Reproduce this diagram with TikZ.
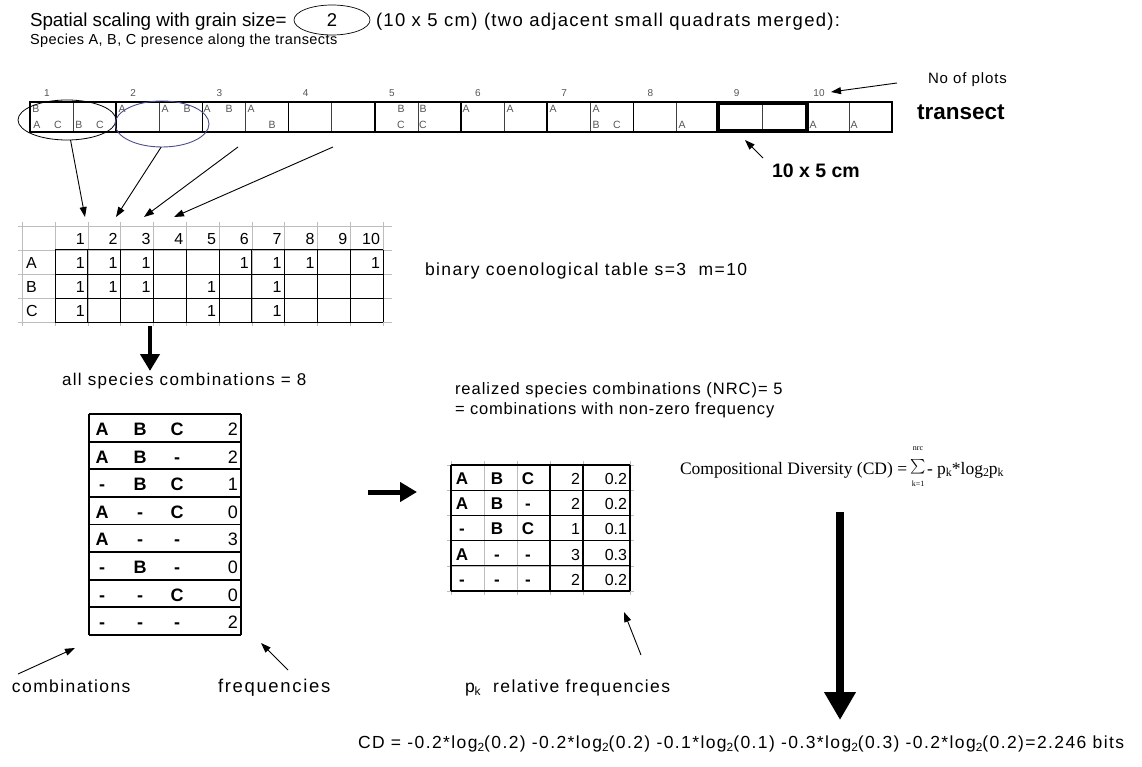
\documentclass[tikz,border=0pt]{standalone}
\usepackage{fontspec}
\setmainfont{Liberation Sans}
\newfontfamily\cdfont{Liberation Serif}
\usetikzlibrary{shapes.geometric,arrows.meta}
\newcommand\fsz[1]{\fontsize{#1}{#1}\selectfont}
\newcommand\lsp[1]{\addfontfeature{LetterSpace=#1}}
\newcommand\sbs[1]{\raisebox{-0.35ex}{\scalebox{0.68}{#1}}}
\definecolor{navyring}{HTML}{4A4E8C}
\definecolor{lettergray}{HTML}{555555}
\definecolor{gridgray}{HTML}{BDBDBD}
\begin{document}
\begin{tikzpicture}[x=1pt,y=-1pt,
  every node/.style={inner sep=0pt,outer sep=0pt},
  lbl/.style={anchor=base west},
  thinarrow/.style={line width=0.9pt,-{Triangle[length=10pt,width=7pt]}},
  cellletter/.style={font=\fsz{10.5},text=lettergray,anchor=center},
  plotnum/.style={font=\fsz{10},text=lettergray,anchor=center},
  tabnum/.style={font=\fsz{16},anchor=base east},
  boldlet/.style={font=\fsz{18}\bfseries,anchor=base},
  ctnum/.style={font=\fsz{18},anchor=base east},
]
\useasboundingbox (0,0) rectangle (1142,767);
\fill[white] (0,0) rectangle (1142,767);

% ---------- title ----------
\node[lbl,font=\fsz{18.8}] (title) at (30,27) {Spatial scaling with grain size=};
\node[draw,ellipse,line width=0.7pt,minimum width=76pt,minimum height=30pt,font=\fsz{18.5}] (grain) at (332,20) {2};
\node[lbl,font=\fsz{18.5}\lsp{7}] (title2) at (376,27) {(10 x 5 cm) (two adjacent small quadrats merged):};
\node[lbl,font=\fsz{14.5}\lsp{3}] (subtitle) at (30,45) {Species A, B, C presence along the transects};

% ---------- transect ----------
\foreach \i in {1,3,...,19} {
  \draw[line width=0.6pt,black!75] ({30+\i*43.1},102) -- ({30+\i*43.1},132);
}
\foreach \i in {2,4,...,18} {
  \draw[line width=1.5pt] ({30+\i*43.1},102) -- ({30+\i*43.1},132);
}
\draw[line width=1.6pt] (30,102) rectangle (892,132);
\draw[line width=3.6pt] (718,103) rectangle (807,131);

\foreach \k in {1,...,9} {
  \node[plotnum] (pn\k) at ({30+(\k-1)*86.2+17},93) {\k};
}
\node[plotnum] (pn10) at (819,93) {10};

% cell letters
\node[cellletter] (l1) at (36,109) {B};
\node[cellletter] (l2) at (37,125) {A};
\node[cellletter] (l3) at (58,125) {C};
\node[cellletter] (l4) at (79,125) {B};
\node[cellletter] (l5) at (100,125) {C};
\node[cellletter] (l6) at (122,109) {A};
\node[cellletter] (l7) at (165,109) {A};
\node[cellletter] (l8) at (187,109) {B};
\node[cellletter] (l9) at (207,109) {A};
\node[cellletter] (l10) at (229,109) {B};
\node[cellletter] (l11) at (251,109) {A};
\node[cellletter] (l12) at (272,125) {B};
\node[cellletter] (l13) at (401,109) {B};
\node[cellletter] (l14) at (401,125) {C};
\node[cellletter] (l15) at (423,109) {B};
\node[cellletter] (l16) at (423,125) {C};
\node[cellletter] (l17) at (466,109) {A};
\node[cellletter] (l18) at (510,109) {A};
\node[cellletter] (l19) at (553,109) {A};
\node[cellletter] (l20) at (596,109) {A};
\node[cellletter] (l21) at (596,125) {B};
\node[cellletter] (l22) at (617,125) {C};
\node[cellletter] (l23) at (682,125) {A};
\node[cellletter] (l24) at (813,125) {A};
\node[cellletter] (l25) at (854,125) {A};

% ellipses
\node[draw,ellipse,line width=0.8pt,minimum width=98pt,minimum height=40pt] (e1) at (67,120) {};
\node[draw=navyring,ellipse,line width=0.9pt,minimum width=94pt,minimum height=46pt] (e2) at (162,124) {};

% labels right
\node[lbl,font=\fsz{15}\lsp{6}] (plots) at (928,84) {No of plots};
\node[lbl,font=\fsz{22.5}\bfseries] (transect) at (917,120) {transect};
\node[lbl,font=\fsz{19.5}\bfseries] (grainlbl) at (772,178) {10 x 5 cm};
\coordinate (plotsarr) at (897,83);
\coordinate (pn10tip) at (831,92);
\draw[thinarrow] (plotsarr) -- (pn10tip);
\coordinate (grainarr) at (763,158);
\coordinate (grainbox) at (745,140);
\draw[thinarrow] (grainarr) -- (grainbox);

% arrows to table
\coordinate (s3) at (238,147);
\coordinate (s4) at (333,147);
\coordinate (t1) at (85,217);
\coordinate (t2) at (116,217);
\coordinate (t3) at (144,217);
\coordinate (t4) at (174,217);
\draw[thinarrow] (e1.-80) -- (t1);
\draw[thinarrow] (e2.-92) -- (t2);
\draw[thinarrow] (s3) -- (t3);
\draw[thinarrow] (s4) -- (t4);

% ---------- binary table ----------
\foreach \yy in {226,250,274,298,322} {
  \draw[gridgray,line width=0.6pt] (18,\yy) -- (392,\yy);
}
\draw[gridgray,line width=0.6pt] (22,222) -- (22,326);
\foreach \j in {0,...,10} {
  \draw[gridgray,line width=0.6pt] ({55+\j*32.8},222) -- ({55+\j*32.8},326);
}
\foreach \yy in {250,274,298,322} {
  \draw[line width=1pt] (55,\yy) -- (383,\yy);
}
\foreach \j in {0,...,10} {
  \draw[line width=1pt] ({55+\j*32.8},250) -- ({55+\j*32.8},322);
}
\foreach \j in {1,...,10} {
  \node[tabnum] (h\j) at ({55+\j*32.8-3},244) {\j};
}
\node[lbl,font=\fsz{16}] (rA) at (26,268) {A};
\node[lbl,font=\fsz{16}] (rB) at (26,292) {B};
\node[lbl,font=\fsz{16}] (rC) at (26,316) {C};
\foreach \j in {1,2,3,6,7,8,10} { \node[tabnum] (a\j) at ({55+\j*32.8-3},268) {1}; }
\foreach \j in {1,2,3,5,7} { \node[tabnum] (b\j) at ({55+\j*32.8-3},292) {1}; }
\foreach \j in {1,5,7} { \node[tabnum] (c\j) at ({55+\j*32.8-3},316) {1}; }

\node[lbl,font=\fsz{17.5}\lsp{8}] (binlbl) at (425,276) {binary coenological table s=3\ \ m=10};

% thick arrow down
\coordinate (bt) at (150,326);
\coordinate (bb) at (150,371);
\draw[line width=4.5pt,-{Triangle[length=17pt,width=19pt]}] (bt) -- (bb);
\node[lbl,font=\fsz{17}\lsp{8}] (allc) at (62,385) {all species combinations = 8};

% ---------- combinations table ----------
\foreach \a/\b/\c/\n [count=\i from 0] in {A/B/C/2,A/B/-/2,-/B/C/1,A/-/C/0,A/-/-/3,-/B/-/0,-/-/C/0,-/-/-/2} {
  \node[boldlet] (ca\i) at (102,{414+\i*27.6+21.5}) {\a};
  \node[boldlet] (cb\i) at (140,{414+\i*27.6+21.5}) {\b};
  \node[boldlet] (cc\i) at (177,{414+\i*27.6+21.5}) {\c};
  \node[ctnum] (cn\i) at (238,{414+\i*27.6+21.5}) {\n};
}
\foreach \i in {0,...,8} {
  \draw[line width=1.8pt] (89,{414+\i*27.6}) -- (241,{414+\i*27.6});
}
\draw[line width=1.2pt] (89,414) -- (89,635);
\draw[line width=1.2pt] (241,414) -- (241,635);

% ---------- realized text ----------
\node[lbl,font=\fsz{16.5}\lsp{6}] (real1) at (455,394) {realized species combinations (NRC)= 5};
\node[lbl,font=\fsz{16.5}\lsp{5}] (real2) at (455,414) {= combinations with non-zero frequency};

% thick arrow right
\coordinate (rl) at (368,492);
\coordinate (rr) at (417,492);
\draw[line width=5pt,-{Triangle[length=17pt,width=19pt]}] (rl) -- (rr);

% ---------- realized table ----------
\foreach \yy in {465,490.2,515.4,540.6,565.8,591} {
  \draw[gridgray,line width=0.6pt] (447,\yy) -- (634,\yy);
}
\foreach \xx in {451,484,517,550,583,630} {
  \draw[gridgray,line width=0.6pt] (\xx,461) -- (\xx,595);
}
\foreach \yy in {465,490.2,515.4,540.6,565.8,591} {
  \draw[line width=1.1pt] (451,\yy) -- (630,\yy);
}
\foreach \xx in {451,550,583,630} {
  \draw[line width=1.1pt] (\xx,465) -- (\xx,591);
}
\foreach \a/\b/\c/\n/\p [count=\i from 0] in {A/B/C/2/0.2,A/B/-/2/0.2,-/B/C/1/0.1,A/-/-/3/0.3,-/-/-/2/0.2} {
  \node[boldlet,font=\fsz{17}\bfseries] (ra\i) at (462,{465+\i*25.2+19.5}) {\a};
  \node[boldlet,font=\fsz{17}\bfseries] (rb\i) at (497,{465+\i*25.2+19.5}) {\b};
  \node[boldlet,font=\fsz{17}\bfseries] (rc\i) at (528,{465+\i*25.2+19.5}) {\c};
  \node[ctnum,font=\fsz{16}] (rn\i) at (580,{465+\i*25.2+19.5}) {\n};
  \node[ctnum,font=\fsz{16}] (rp\i) at (627,{465+\i*25.2+19.5}) {\p};
}

% ---------- CD formula ----------
\node[lbl,font=\fsz{17.5}\cdfont] (cdl) at (680,474) {Compositional Diversity (CD) =};
\node[anchor=center] (sig) at (918,467) {\scalebox{1.45}{$\sum$}};
\node[anchor=center,font=\fsz{8}\cdfont] (nrc) at (918,449) {nrc};
\node[anchor=center,font=\fsz{8}\cdfont] (k1) at (918,484) {k=1};
\node[lbl,font=\fsz{17.5}\cdfont] (cdr) at (927,474) {- p\sbs{k}*log\sbs{2}p\sbs{k}};

% big arrow down
\coordinate (dt) at (840,512);
\coordinate (db) at (840,720);
\draw[line width=8pt,-{Triangle[length=28pt,width=30pt]}] (dt) -- (db);

% ---------- bottom labels ----------
\coordinate (ca) at (18,674);
\coordinate (cah) at (75,648);
\draw[thinarrow] (ca) -- (cah);
\coordinate (fa) at (288,670);
\coordinate (fah) at (261,643);
\draw[thinarrow] (fa) -- (fah);
\coordinate (pa) at (641,655);
\coordinate (pah) at (624,612);
\draw[thinarrow] (pa) -- (pah);
\node[lbl,font=\fsz{17.5}\lsp{8}] (combl) at (12,692) {combinations};
\node[lbl,font=\fsz{18.5}\lsp{9}] (freql) at (218,692) {frequencies};
\node[lbl,font=\fsz{17.5}\lsp{8}] (rell) at (465,692) {p\sbs{k}\ \ relative frequencies};

\node[lbl,font=\fsz{17.5}\lsp{8}] (cdcalc) at (358,748)
  {CD = -0.2*log\sbs{2}(0.2) -0.2*log\sbs{2}(0.2) -0.1*log\sbs{2}(0.1) -0.3*log\sbs{2}(0.3) -0.2*log\sbs{2}(0.2)=2.246 bits};
\end{tikzpicture}
\end{document}
